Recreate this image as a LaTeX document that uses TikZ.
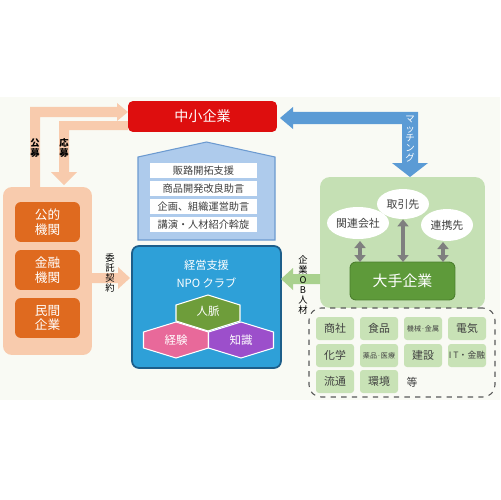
\documentclass[tikz,border=0pt]{standalone}
\usepackage{fontspec}
\setmainfont{Noto Sans CJK JP}
\usetikzlibrary{arrows.meta,shapes.geometric}
\definecolor{bgc}{HTML}{F9FAF4}
\definecolor{redc}{RGB}{222,14,14}
\definecolor{lorange}{HTML}{F8CBAD}
\definecolor{dorange}{HTML}{DF6A1F}
\definecolor{bluearrow}{HTML}{5B9BD5}
\definecolor{housefill}{HTML}{AECBEC}
\definecolor{houseedge}{HTML}{6C9AD0}
\definecolor{npofill}{HTML}{2EA0D8}
\definecolor{npoedge}{HTML}{1D5E8A}
\definecolor{lgreen}{HTML}{C5E0B4}
\definecolor{cellgreen}{HTML}{C8E2B6}
\definecolor{dgreen}{HTML}{5E9A3A}
\definecolor{dgreenedge}{HTML}{4B7F2D}
\definecolor{garrow}{HTML}{A9D18E}
\definecolor{grayarrow}{HTML}{7F7F7F}
\definecolor{hexgreen}{HTML}{6E9D3A}
\definecolor{hexpink}{HTML}{E8699A}
\definecolor{hexpurple}{HTML}{9C4FCB}
\definecolor{txt}{HTML}{404040}
\tikzset{
  box/.style={inner sep=0pt, outer sep=0pt, align=center},
  vlabel/.style={inner sep=0pt, align=center, text=black, font=\fontsize{5.3}{5.7}\selectfont},
  rowbox/.style={box, fill=white, minimum width=2.14cm, minimum height=0.3cm, text=txt, font=\fontsize{5.8}{7}\selectfont},
  obox/.style={box, fill=dorange, rounded corners=0.12cm, minimum width=1.3cm, minimum height=0.8cm, text=white, font=\fontsize{7.2}{8.2}\selectfont},
  ell/.style={ellipse, fill=white, inner sep=0pt, text=txt, font=\fontsize{6.2}{7}\selectfont},
  cell/.style={box, fill=cellgreen, rounded corners=0.06cm, minimum width=0.76cm, minimum height=0.46cm, text=txt, font=\fontsize{6.2}{7}\selectfont},
  smallcell/.style={cell, font=\fontsize{4}{5}\selectfont},
  grayarr/.style={draw=grayarrow, line width=0.08cm, {Triangle[width=0.22cm,length=0.14cm]}-{Triangle[width=0.22cm,length=0.14cm]}},
  hextext/.style={inner sep=0pt, text=white, font=\fontsize{6.5}{7.5}\selectfont}
}
\begin{document}
\begin{tikzpicture}[x=0.02cm,y=-0.02cm]
\useasboundingbox (0,0) rectangle (500,500);
\fill[bgc] (0,97) rectangle (500,400);

% orange arrows
\fill[lorange] (30,187) -- (30,107) -- (117,107) -- (117,103) -- (128,112) -- (117,121) -- (117,117) -- (40,117) -- (40,187) -- cycle;
\fill[lorange] (128,121) -- (59,121) -- (59,172) -- (51,172) -- (64,185) -- (77,172) -- (69,172) -- (69,130) -- (128,130) -- cycle;
\node[vlabel, font=\bfseries\fontsize{5.3}{5.7}\selectfont] (kobo) at (35,148) {公\\募};
\node[vlabel, font=\bfseries\fontsize{5.3}{5.7}\selectfont] (obo) at (64,148) {応\\募};

% left box
\node[box, fill=lorange, rounded corners=0.18cm, minimum width=1.78cm, minimum height=3.36cm] (left) at (47.5,271) {};
\node[obox] (pub) at (47.5,222) {公的\\機関};
\node[obox] (fin) at (47.5,270) {金融\\機関};
\node[obox] (pri) at (47.5,318) {民間\\企業};

% contract arrow
\fill[lorange] (92,273) -- (118,273) -- (118,267) -- (130,278) -- (118,289) -- (118,283) -- (92,283) -- cycle;
\node[vlabel] (itaku) at (110,273) {委\\託\\契\\約};

% red box
\node[box, fill=redc, rounded corners=0.1cm, minimum width=2.98cm, minimum height=0.62cm, text=white, font=\fontsize{8}{9}\selectfont] (sme) at (202.5,116.5) {中小企業};

% blue matching arrow
\fill[bluearrow] (280,118) -- (293,107) -- (293,112) -- (418,112) -- (418,163) -- (428,163) -- (410,177) -- (392,163) -- (402,163) -- (402,124) -- (293,124) -- (293,129) -- cycle;
\node[vlabel, text=white, font=\fontsize{5.4}{5.5}\selectfont] (match) at (410,139) {マ\\ッ\\チ\\ン\\グ};

% house
\filldraw[fill=housefill, draw=houseedge, line width=0.6pt] (138,240) -- (138,157) -- (206.5,142) -- (275,157) -- (275,240) -- cycle;
\node[rowbox] (r1) at (203.5,170.5) {販路開拓支援};
\node[rowbox] (r2) at (203.5,188.5) {商品開発改良助言};
\node[rowbox] (r3) at (203.5,206.5) {企画、組織運営助言};
\node[rowbox] (r4) at (203.5,224.5) {講演・人材紹介斡旋};

% NPO box
\node[box, fill=npofill, draw=npoedge, line width=1pt, rounded corners=0.14cm, minimum width=2.98cm, minimum height=2.44cm] (npo) at (206.5,307) {};
\node[box, text=white, font=\fontsize{6.4}{9.8}\selectfont] (npot) at (206.5,274) {経営支援\\NPO クラブ};

% hexagons
\filldraw[fill=hexgreen, draw=white, line width=0.6pt] (208,295) -- (240,305) -- (240,321) -- (208,331) -- (176,321) -- (176,305) -- cycle;
\filldraw[fill=hexpink, draw=white, line width=0.6pt] (176,322) -- (208.5,332) -- (208.5,348) -- (176,358) -- (143.5,348) -- (143.5,332) -- cycle;
\filldraw[fill=hexpurple, draw=white, line width=0.6pt] (241,322) -- (273.5,332) -- (273.5,348) -- (241,358) -- (208.5,348) -- (208.5,332) -- cycle;
\node[hextext] (jinmyaku) at (208,311) {人脈};
\node[hextext] (keiken) at (176,340) {経験};
\node[hextext] (chishiki) at (241,340) {知識};

% green panel
\node[box, fill=lgreen, rounded corners=0.2cm, minimum width=3.3cm, minimum height=2.62cm] (panel) at (402.5,242.5) {};
\node[ell, minimum width=1.04cm, minimum height=0.6cm] (tori) at (403,204) {取引先};
\node[ell, minimum width=1.24cm, minimum height=0.64cm] (kanren) at (358,223) {関連会社};
\node[ell, minimum width=1.04cm, minimum height=0.64cm] (renkei) at (447,225) {連携先};
\node[box, fill=dgreen, draw=dgreenedge, line width=0.5pt, rounded corners=0.12cm, minimum width=2.1cm, minimum height=0.76cm, text=white, font=\fontsize{8.5}{9.5}\selectfont] (ote) at (402.5,281) {大手企業};
\coordinate (kb) at (360,241);
\coordinate (rb) at (443,242);
\draw[grayarr] (tori.south) -- (tori.south |- ote.north);
\draw[grayarr] (kb) -- (kb |- ote.north);
\draw[grayarr] (rb) -- (rb |- ote.north);

% green arrow
\fill[garrow] (320,274) -- (293,274) -- (293,268) -- (281,279) -- (293,290) -- (293,284) -- (320,284) -- cycle;
\node[vlabel] (ob) at (303,285) {企\\業\\O\\B\\人\\材};

% dashed box and cells
\node[box, draw=black!65, dashed, line width=0.6pt, rounded corners=0.24cm, minimum width=3.72cm, minimum height=1.78cm] (ind) at (402,352.5) {};
\node[cell] (c11) at (335,328.5) {商社};
\node[cell] (c12) at (379,328.5) {食品};
\node[smallcell] (c13) at (423,328.5) {機械·金属};
\node[cell] (c14) at (467,328.5) {電気};
\node[cell] (c21) at (335,355.5) {化学};
\node[smallcell] (c22) at (379,355.5) {薬品·医療};
\node[cell] (c23) at (423,355.5) {建設};
\node[smallcell, font=\fontsize{5}{6}\selectfont] (c24) at (467,355.5) {I T・金融};
\node[cell] (c31) at (335,381.5) {流通};
\node[cell] (c32) at (379,381.5) {環境};
\node[box, text=txt, font=\fontsize{6.2}{7}\selectfont] (etc) at (412,382) {等};
\end{tikzpicture}
\end{document}
